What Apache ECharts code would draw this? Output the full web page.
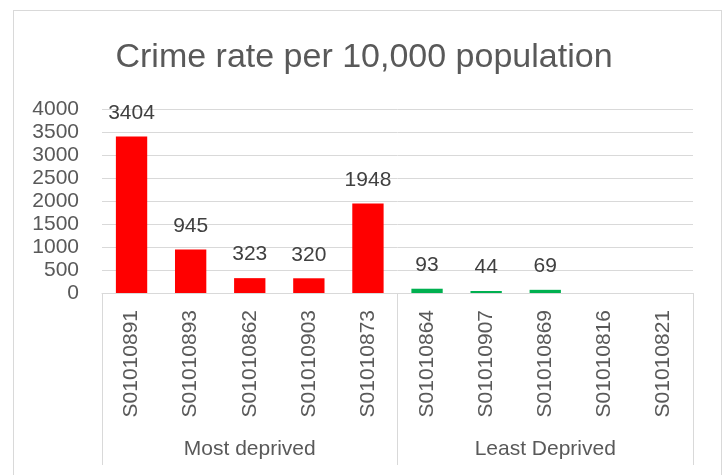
<!DOCTYPE html>
<html>
<head>
<meta charset="utf-8">
<script src="https://cdn.jsdelivr.net/npm/echarts@6/dist/echarts.min.js"></script>
<style>
  html, body { margin: 0; padding: 0; background: #fff; }
  #frame { position: absolute; left: 13px; top: 10px; width: 709px; height: 480px; border: 1px solid #d9d9d9; box-sizing: border-box; }
  #chart { position: absolute; left: 0; top: 0; width: 728px; height: 475px; }
</style>
</head>
<body>
<div id="frame"></div>
<div id="chart"></div>
<script>
const titleText = 'Crime rate per 10,000 population';
const categories = ['S01010891', 'S01010893', 'S01010862', 'S01010903', 'S01010873',
                    'S01010864', 'S01010907', 'S01010869', 'S01010816', 'S01010821'];
const groups = ['Most deprived', 'Least Deprived'];
const mostDeprived = [3404, 945, 323, 320, 1948, null, null, null, null, null];
const leastDeprived = [null, null, null, null, null, 93, 44, 69, null, null];
const yTicks = { min: 0, max: 4000, interval: 500 };

const FONT = '"Liberation Sans", Arial, sans-serif';
const chart = echarts.init(document.getElementById('chart'), null, { renderer: 'canvas' });
const labelStyle = { show: true, position: 'top', distance: 13, color: '#404040', fontSize: 21, fontFamily: FONT };
chart.setOption({
  animation: false,
  backgroundColor: 'transparent',
  title: {
    text: titleText, left: 'center', top: 36,
    textStyle: { color: '#595959', fontSize: 34, fontWeight: 'normal', fontFamily: FONT }
  },
  grid: { left: 102, right: 35, top: 109, bottom: 182, containLabel: false },
  xAxis: [
    {
      type: 'category', data: categories, position: 'bottom',
      axisLine: { show: true, lineStyle: { color: '#d9d9d9', width: 1 } },
      axisTick: { show: false },
      axisLabel: { rotate: 90, interval: 0, margin: 17, color: '#595959', fontSize: 21, fontFamily: FONT }
    },
    {
      type: 'category', data: groups, position: 'bottom', offset: 0,
      axisLine: { show: false },
      axisTick: { show: true, interval: 0, length: 172, lineStyle: { color: '#d9d9d9', width: 1 } },
      axisLabel: { interval: 0, margin: 146, color: '#595959', fontSize: 21, fontFamily: FONT }
    }
  ],
  yAxis: {
    type: 'value', min: yTicks.min, max: yTicks.max, interval: yTicks.interval,
    axisLine: { show: false }, axisTick: { show: false },
    splitLine: { lineStyle: { color: '#d9d9d9', width: 1 } },
    axisLabel: { margin: 23, color: '#595959', fontSize: 21, fontFamily: FONT, formatter: v => String(v) }
  },
  series: [
    { type: 'bar', name: 'Most deprived', data: mostDeprived, stack: 'a', barCategoryGap: '47%',
      itemStyle: { color: '#ff0000' }, label: labelStyle },
    { type: 'bar', name: 'Least Deprived', data: leastDeprived, stack: 'a', barCategoryGap: '47%',
      itemStyle: { color: '#00b050' }, label: labelStyle }
  ]
});
</script>
</body>
</html>
